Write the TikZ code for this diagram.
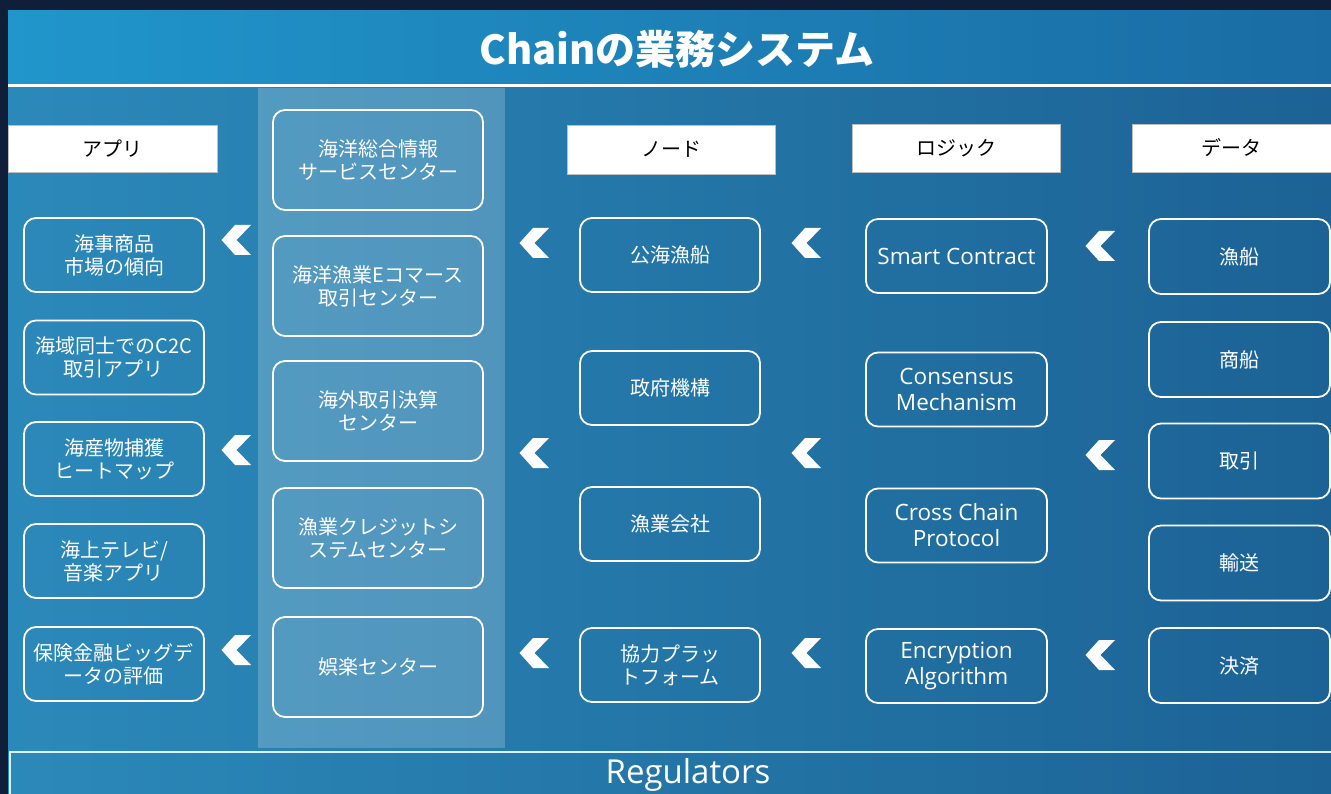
\documentclass[tikz,border=0pt]{standalone}
\usepackage{fontspec}
\setmainfont{Noto Sans CJK JP}
\newfontfamily\latinf{Open Sans}
\definecolor{navy}{HTML}{0F1F3A}
\definecolor{bodyL}{HTML}{2B89B9}
\definecolor{bodyR}{HTML}{1C6295}
\definecolor{titleL}{HTML}{2096CB}
\definecolor{titleR}{HTML}{1A6CA4}
\begin{document}
\begin{tikzpicture}[x=1pt,y=-1pt,
  rbox/.style={draw=white, line width=1.8pt, rounded corners=12pt, text=white,
    font=\fontsize{20}{23}\selectfont, align=center, inner sep=0pt},
  c1/.style={rbox, minimum width=180pt, minimum height=74pt},
  c2/.style={rbox, minimum width=210pt, minimum height=100pt},
  c3/.style={rbox, minimum width=180pt, minimum height=74pt},
  c4/.style={rbox, minimum width=181pt, minimum height=74pt, font=\latinf\fontsize{22.5}{26}\selectfont},
  c5/.style={rbox, minimum width=181pt, minimum height=75pt},
  hbox/.style={fill=white, draw=black!25, line width=0.8pt, text=black,
    font=\fontsize{20}{23}\selectfont, inner sep=0pt},
  chev/.pic={\fill[white] (-14.5,0) -- (-1,-15) -- (15,-15) -- (0.5,0) -- (15,15) -- (-1,15) -- cycle;}
]
\useasboundingbox (0,0) rectangle (1331,794);
\fill[navy] (0,0) rectangle (1331,794);
\shade[left color=bodyL, right color=bodyR] (8,86) rectangle (1331,794);
\shade[left color=titleL, right color=titleR] (8,11) rectangle (1331,85);
\fill[white, opacity=0.2] (258,88) rectangle (505,748);
\draw[white, line width=2.5pt] (8,85.5) -- (1331,85.5);
\begin{scope}
\clip (0,0) rectangle (1331,794);
\draw[white!85!cyan, line width=1.8pt] (1340,752) -- (10,752) -- (10,800);
\end{scope}
\node[text=white, font=\bfseries\fontsize{40}{40}\selectfont] (title) at (677,49) {Chainの業務システム};
\node[text=white, font=\latinf\fontsize{33}{33}\selectfont] (reg) at (688,775) {Regulators};

% headers
\node[hbox, minimum width=209pt, minimum height=47pt] (h1) at (112.5,148.5) {アプリ};
\node[hbox, minimum width=208pt, minimum height=49pt] (h3) at (671,149.5) {ノード};
\node[hbox, minimum width=208pt, minimum height=48pt] (h4) at (956,148) {ロジック};
\node[hbox, minimum width=199pt, minimum height=48pt] (h5) at (1231.5,148) {データ};

% column 1
\node[c1] (a1) at (114,255) {海事商品\\市場の傾向};
\node[c1] (a2) at (114,357.5) {海域同士でのC2C\\取引アプリ};
\node[c1] (a3) at (114,459) {海産物捕獲\\ヒートマップ};
\node[c1] (a4) at (114,561) {海上テレビ/\\音楽アプリ};
\node[c1] (a5) at (114,664) {保険金融ビッグデ\\ータの評価};

% column 2
\node[c2] (b1) at (378,160) {海洋総合情報\\サービスセンター};
\node[c2] (b2) at (378,286) {海洋漁業Eコマース\\取引センター};
\node[c2] (b3) at (378,411) {海外取引決算\\センター};
\node[c2] (b4) at (378,538) {漁業クレジットシ\\ステムセンター};
\node[c2] (b5) at (378,667) {娯楽センター};

% column 3
\node[c3] (n1) at (670,255) {公海漁船};
\node[c3] (n2) at (670,388) {政府機構};
\node[c3] (n3) at (670,524) {漁業会社};
\node[c3] (n4) at (670,665) {協力プラッ\\トフォーム};

% column 4
\node[c4] (l1) at (956.5,256) {Smart Contract};
\node[c4] (l2) at (956.5,389.5) {Consensus\\Mechanism};
\node[c4] (l3) at (956.5,525.5) {Cross Chain\\Protocol};
\node[c4] (l4) at (956.5,666) {Encryption\\Algorithm};

% column 5
\node[c5] (d1) at (1239.5,256.5) {漁船};
\node[c5] (d2) at (1239.5,359.5) {商船};
\node[c5] (d3) at (1239.5,461) {取引};
\node[c5] (d4) at (1239.5,563) {輸送};
\node[c5] (d5) at (1239.5,665.5) {決済};

% chevrons
\foreach \cx/\ya/\yb/\yc in {236/240/450/650, 534/243/453/653, 806/243/453/653, 1100/246/455/655}{
  \pic at (\cx,\ya) {chev};
  \pic at (\cx,\yb) {chev};
  \pic at (\cx,\yc) {chev};
}
\end{tikzpicture}
\end{document}
